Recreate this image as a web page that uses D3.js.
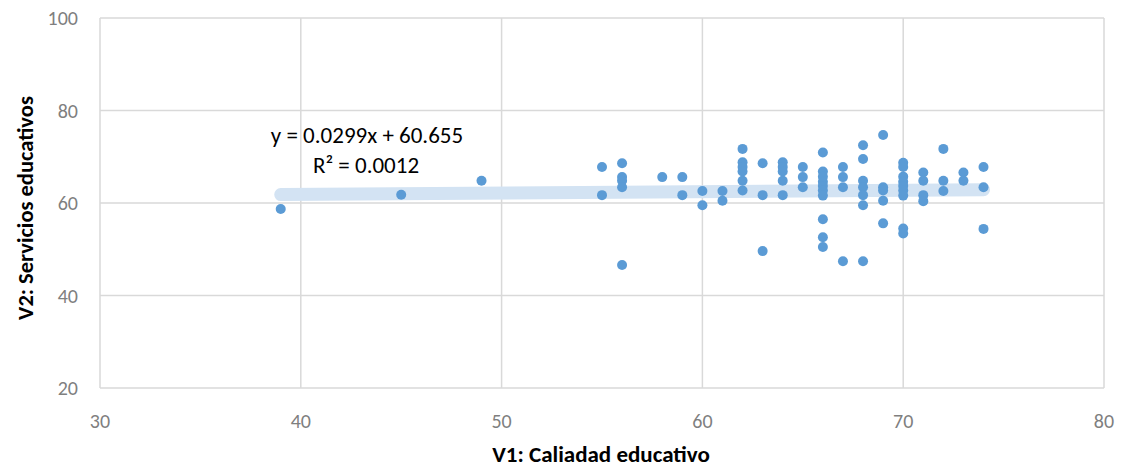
<!DOCTYPE html>
<html><head><meta charset="utf-8">
<script src="https://cdn.jsdelivr.net/npm/d3@7"></script>
<style>body{margin:0;background:#fff}svg{display:block}</style>
</head><body>
<script>
const xValues = [39,45,49,55,55,56,56,56,56,56,58,59,59,60,60,61,61,
 62,62,62,62,62,62,63,63,63,64,64,64,64,64,65,65,65,
 66,66,66,66,66,66,66,66,66,66,67,67,67,67,
 68,68,68,68,68,68,68,69,69,69,69,69,
 70,70,70,70,70,70,70,70,70,71,71,71,71,72,72,72,73,73,74,74,74];
const yValues = [58.7,61.8,64.8,67.8,61.7,68.6,65.6,64.8,63.4,46.6,65.6,65.6,61.7,62.6,59.5,62.6,60.5,
 71.7,68.8,67.8,66.8,64.8,62.7,68.6,61.7,49.6,68.8,67.8,66.8,64.8,61.7,67.8,65.6,63.4,
 70.9,66.8,65.7,64.6,63.7,62.7,61.6,56.5,52.6,50.5,67.8,65.6,63.4,47.4,
 72.5,69.5,64.8,63.4,61.7,59.5,47.4,74.7,63.4,62.7,60.5,55.6,
 68.7,67.8,65.7,64.6,63.7,62.7,61.6,54.5,53.4,66.6,64.8,61.7,60.4,71.7,64.8,62.6,66.6,64.8,67.8,63.4,54.4];
const xTicks = [30,40,50,60,70,80];
const yTicks = [20,40,60,80,100];
const trendSlope = 0.0299, trendIntercept = 60.655;
const trendRange = [39,74];
const eqLabel = "y = 0.0299x + 60.655";
const r2Label = "R² = 0.0012";
const xTitle = "V1: Caliadad educativo";
const yTitle = "V2: Servicios educativos";

const W = 1121, H = 469;
const m = {l:100, r:17, t:18, b:81};
const svg = d3.select("body").append("svg").attr("width",W).attr("height",H);
const x = d3.scaleLinear().domain([30,80]).range([m.l, W-m.r]);
const y = d3.scaleLinear().domain([20,100]).range([H-m.b, m.t]);
const font = "Calibri, Carlito, Lato, 'Liberation Sans', sans-serif";

const g = svg.append("g");
g.selectAll("line.h").data(yTicks).join("line")
 .attr("x1",x(30)).attr("x2",x(80)).attr("y1",d=>y(d)).attr("y2",d=>y(d))
 .attr("stroke","#d9d9d9").attr("stroke-width",1.5);
g.selectAll("line.v").data(xTicks).join("line")
 .attr("y1",y(20)).attr("y2",y(100)).attr("x1",d=>x(d)).attr("x2",d=>x(d))
 .attr("stroke","#d9d9d9").attr("stroke-width",1.5);

g.selectAll("text.yt").data(yTicks).join("text")
 .attr("x",x(30)-22).attr("y",d=>y(d)).attr("dy","0.36em").attr("text-anchor","end")
 .attr("font-family",font).attr("font-size",20).attr("fill","#7f7f7f").text(d=>d);
g.selectAll("text.xt").data(xTicks).join("text")
 .attr("x",d=>x(d)).attr("y",y(20)+40).attr("text-anchor","middle")
 .attr("font-family",font).attr("font-size",20).attr("fill","#7f7f7f").text(d=>d);

// trendline
g.append("line")
 .attr("x1",x(trendRange[0])).attr("x2",x(trendRange[1]))
 .attr("y1",y(trendSlope*trendRange[0]+trendIntercept)).attr("y2",y(trendSlope*trendRange[1]+trendIntercept))
 .attr("stroke","#d3e3f3").attr("stroke-width",13).attr("stroke-linecap","round");

g.selectAll("circle").data(xValues.map((d,i)=>[d,yValues[i]])).join("circle")
 .attr("cx",d=>x(d[0])).attr("cy",d=>y(d[1])).attr("r",5).attr("fill","#5b9bd5");

g.append("text").attr("x",367).attr("y",143).attr("text-anchor","middle")
 .attr("font-family",font).attr("font-size",23).attr("fill","#000").text(eqLabel);
g.append("text").attr("x",366).attr("y",173).attr("text-anchor","middle")
 .attr("font-family",font).attr("font-size",23).attr("fill","#000").text(r2Label);

g.append("text").attr("x",601).attr("y",462).attr("text-anchor","middle")
 .attr("font-family",font).attr("font-size",23).attr("font-weight","bold").attr("fill","#000").text(xTitle);
g.append("text").attr("transform",`translate(33,208) rotate(-90)`).attr("text-anchor","middle")
 .attr("font-family",font).attr("font-size",22.5).attr("font-weight","bold").attr("fill","#000").text(yTitle);
</script>
</body></html>
